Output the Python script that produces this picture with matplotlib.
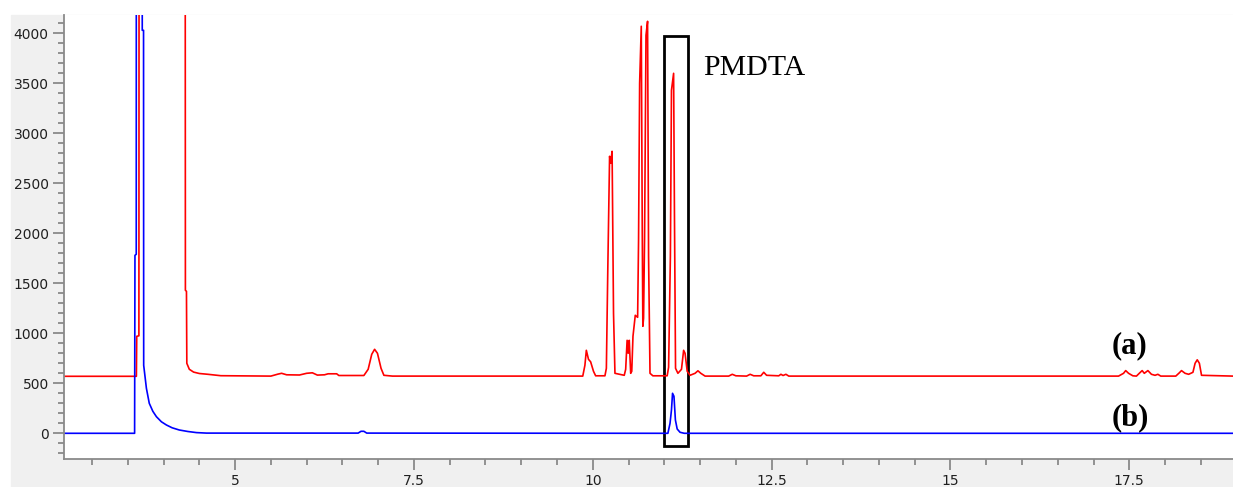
import matplotlib
matplotlib.use("Agg")
import matplotlib.pyplot as plt
from matplotlib.patches import Rectangle
from matplotlib.ticker import MultipleLocator, FormatStrFormatter

# trace (a): (retention time in min, signal); values above 4180 are off scale
red_points = [
    (2.6, 570), (3.62, 570), (3.625, 970), (3.655, 975), (3.66, 9000), (4.30, 9000),
    (4.305, 1430), (4.32, 1420), (4.325, 700), (4.36, 640), (4.42, 612), (4.5, 598),
    (4.62, 590), (4.8, 576), (5.5, 572), (5.6, 592), (5.65, 600), (5.72, 585),
    (5.9, 583), (6.0, 600), (6.08, 605), (6.15, 582), (6.25, 585), (6.3, 595),
    (6.42, 595), (6.45, 578), (6.8, 578), (6.86, 640), (6.91, 790), (6.95, 840),
    (6.99, 800), (7.04, 650), (7.08, 580), (7.2, 572), (9.86, 572), (9.89, 680),
    (9.91, 830), (9.94, 740), (9.97, 715), (10.01, 620), (10.04, 575), (10.17, 575),
    (10.19, 650), (10.21, 1640), (10.235, 2770), (10.25, 2700), (10.27, 2820),
    (10.29, 1200), (10.31, 600), (10.44, 580), (10.46, 640), (10.48, 930),
    (10.495, 800), (10.51, 930), (10.53, 600), (10.545, 620), (10.562, 970),
    (10.594, 1180), (10.627, 1160), (10.64, 1930), (10.655, 3500), (10.678, 4070),
    (10.692, 2000), (10.70, 1070), (10.71, 1150), (10.724, 1950), (10.744, 3980),
    (10.766, 4120), (10.78, 1770), (10.80, 600), (10.84, 575), (11.04, 575),
    (11.06, 660), (11.085, 1770), (11.10, 3430), (11.13, 3600), (11.142, 2170),
    (11.157, 650), (11.19, 600), (11.24, 640), (11.27, 830), (11.29, 800),
    (11.32, 620), (11.36, 580), (11.43, 600), (11.47, 625), (11.51, 600),
    (11.57, 572), (11.9, 572), (11.95, 590), (12.0, 575), (12.15, 572),
    (12.2, 590), (12.25, 575), (12.35, 575), (12.39, 610), (12.43, 580),
    (12.6, 575), (12.63, 590), (12.66, 578), (12.7, 590), (12.74, 572),
    (17.35, 572), (17.42, 600), (17.45, 627), (17.49, 600), (17.55, 575),
    (17.6, 572), (17.64, 600), (17.68, 627), (17.71, 600), (17.76, 627),
    (17.81, 590), (17.86, 580), (17.9, 590), (17.94, 572), (18.15, 572),
    (18.2, 605), (18.23, 627), (18.28, 600), (18.33, 590), (18.39, 610),
    (18.42, 700), (18.45, 735), (18.48, 700), (18.51, 580), (18.95, 572),
]

# trace (b)
blue_points = [
    (2.6, 0), (3.595, 0), (3.6, 1780), (3.618, 1790), (3.62, 9000), (3.70, 9000),
    (3.702, 4030), (3.72, 4030), (3.722, 680), (3.76, 450), (3.8, 300), (3.85, 220),
    (3.9, 166), (3.97, 115), (4.04, 83), (4.12, 55), (4.22, 33), (4.34, 18),
    (4.46, 7), (4.6, 2), (6.72, 2), (6.76, 20), (6.8, 20), (6.84, 2), (11.05, 0),
    (11.08, 100), (11.10, 233), (11.115, 400), (11.135, 370), (11.155, 133),
    (11.18, 43), (11.22, 10), (11.28, 0), (18.95, 0),
]

x_major = [5, 7.5, 10, 12.5, 15, 17.5]
y_major = [0, 500, 1000, 1500, 2000, 2500, 3000, 3500, 4000]

red_t, red_y = zip(*red_points)
blue_t, blue_y = zip(*blue_points)

fig = plt.figure(figsize=(12.33, 4.87), dpi=100)
# grey panel behind the axes, like the instrument software window
fig.patches.append(Rectangle((11 / 1233, 0), 1, 472 / 487, transform=fig.transFigure,
                             color="#f0f0f0", zorder=-10))
ax = fig.add_axes([64 / 1233, 28 / 487, 1 - 64 / 1233, 444 / 487])
ax.set_zorder(1)
ax.set_facecolor("white")

ax.plot(red_t, red_y, color="#ff0000", lw=1.2)
ax.plot(blue_t, blue_y, color="#0000ff", lw=1.2)

ax.add_patch(Rectangle((10.996, -127), 0.33, 4097, fill=False, ec="black", lw=2))
ax.text(11.545, 3653, "PMDTA", family="Liberation Serif", fontsize=21.5,
        ha="left", va="center")
ax.text(17.50, 875, "(a)", family="Liberation Serif", fontweight="bold",
        fontsize=22, ha="center", va="center")
ax.text(17.51, 160, "(b)", family="Liberation Serif", fontweight="bold",
        fontsize=22, ha="center", va="center")

ax.set_xlim(2.608, 18.95)
ax.set_ylim(-257, 4183)
ax.set_xticks(x_major)
ax.set_yticks(y_major)
ax.xaxis.set_major_formatter(FormatStrFormatter("%g"))
ax.xaxis.set_minor_locator(MultipleLocator(0.5))
ax.yaxis.set_minor_locator(MultipleLocator(100))

for s in ["top", "right"]:
    ax.spines[s].set_visible(False)
for s in ["left", "bottom"]:
    ax.spines[s].set_color("#8a8a8a")
    ax.spines[s].set_linewidth(1.3)

ax.tick_params(which="major", length=8, width=1.3, color="#8a8a8a",
               labelsize=10, labelcolor="#202020", pad=3)
ax.tick_params(which="minor", length=4, width=1.3, color="#8a8a8a")

fig.savefig("out.png", dpi=100)
